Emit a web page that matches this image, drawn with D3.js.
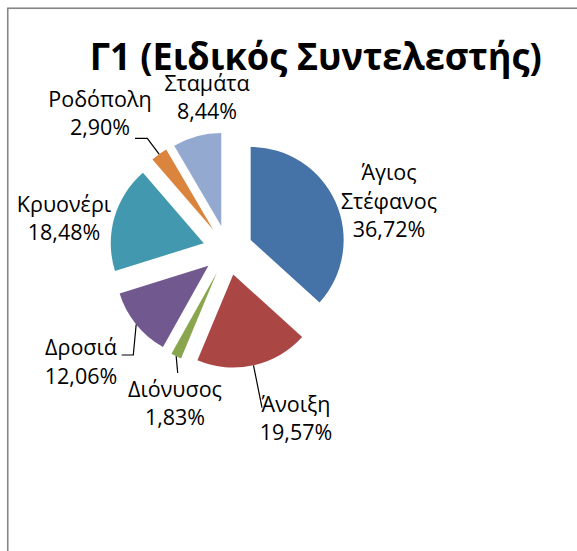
<!DOCTYPE html>
<html>
<head>
<meta charset="utf-8">
<script src="https://cdn.jsdelivr.net/npm/d3@7/dist/d3.min.js"></script>
<style>
  html, body { margin: 0; padding: 0; background: #fff; }
  svg { display: block; }
  text { font-family: "Open Sans", "Noto Sans", sans-serif; fill: #000; }
</style>
</head>
<body>
<svg id="chart" width="577" height="551"></svg>
<script>
// ---- data ----
const categories = ["Άγιος Στέφανος", "Άνοιξη", "Διόνυσος", "Δροσιά", "Κρυονέρι", "Ροδόπολη", "Σταμάτα"];
const values = [36.72, 19.57, 1.83, 12.06, 18.48, 2.90, 8.44];
const nameLines = [["Άγιος", "Στέφανος"], ["Άνοιξη"], ["Διόνυσος"], ["Δροσιά"], ["Κρυονέρι"], ["Ροδόπολη"], ["Σταμάτα"]];
const colors = ["#4572A7", "#AA4643", "#89A54E", "#71588F", "#4198AF", "#DB843D", "#93A9CF"];
const title = "Γ1 (Ειδικός Συντελεστής)";

// ---- layout ----
const W = 577, H = 551;
const cx = 227.8, cy = 250.1, R = 93, explode = 25;
// label anchor: centre x, first baseline y
const labelPos = [[389, 180], [296, 411.7], [175, 396.7], [81, 355], [64, 211.7], [100, 106.7], [207, 90.7]];
// leader line points on the label side (null = no leader)
const leaderPts = [null, [[262, 407.6]], [[177.7, 373]], [[121.7, 355], [133.3, 355]], null, [[135, 138.3], [147.3, 138.3]], null];
const lineGap = 28.7;

const svg = d3.select("#chart");

// frame
svg.append("rect")
  .attr("x", 7.75).attr("y", 8.25)
  .attr("width", W + 20).attr("height", H + 20)
  .attr("fill", "#fff")
  .attr("stroke", "#868686").attr("stroke-width", 1.6);

// title
svg.append("text")
  .attr("x", 315.8).attr("y", 70)
  .attr("text-anchor", "middle")
  .attr("font-weight", "bold")
  .attr("font-size", 37)
  .attr("textLength", 452)
  .attr("lengthAdjust", "spacingAndGlyphs")
  .text(title);

const pie = d3.pie().sort(null).value(d => d.value).startAngle(0).endAngle(2 * Math.PI);
const data = categories.map((c, i) => ({ name: c, value: values[i], i }));
const arcs = pie(data);
const arc = d3.arc().innerRadius(0).outerRadius(R);

function dir(a) {
  const m = (a.startAngle + a.endAngle) / 2;
  return [Math.sin(m), -Math.cos(m)];
}

const g = svg.append("g");
g.selectAll("path.slice")
  .data(arcs)
  .join("path")
  .attr("class", "slice")
  .attr("fill", d => colors[d.data.i])
  .attr("transform", d => {
    const [dx, dy] = dir(d);
    return `translate(${cx + dx * explode},${cy + dy * explode})`;
  })
  .attr("d", arc);

// leader lines
const fmt = v => d3.format(".2f")(v).replace(".", ",") + "%";
arcs.forEach(d => {
  const pts = leaderPts[d.data.i];
  if (!pts) return;
  const [dx, dy] = dir(d);
  const edge = [cx + dx * (explode + R), cy + dy * (explode + R)];
  const all = pts.concat([edge]);
  svg.append("path")
    .attr("d", d3.line()(all))
    .attr("fill", "none")
    .attr("stroke", "#000")
    .attr("stroke-width", 1.2);
});

// labels
arcs.forEach(d => {
  const i = d.data.i;
  const lines = nameLines[i].concat([fmt(values[i])]);
  const t = svg.append("text")
    .attr("text-anchor", "middle")
    .attr("font-size", 21.5);
  lines.forEach((ln, k) => {
    t.append("tspan")
      .attr("x", labelPos[i][0])
      .attr("y", labelPos[i][1] + k * lineGap)
      .text(ln);
  });
});
</script>
</body>
</html>
